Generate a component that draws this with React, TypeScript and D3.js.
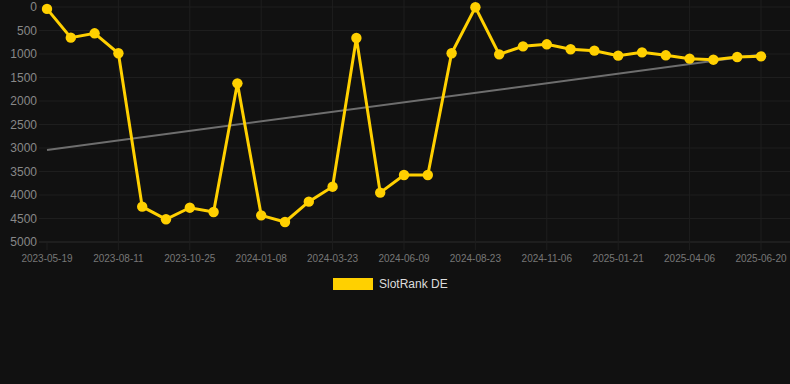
import React from "react";
import * as d3 from "d3";

const categories = [
  "2023-05-19", "2023-06-16", "2023-07-14", "2023-08-11", "2023-09-05", "2023-09-30",
  "2023-10-25", "2023-11-19", "2023-12-14", "2024-01-08", "2024-02-01", "2024-02-26",
  "2024-03-23", "2024-04-18", "2024-05-14", "2024-06-09", "2024-07-04", "2024-07-29",
  "2024-08-23", "2024-09-17", "2024-10-12", "2024-11-06", "2024-12-01", "2024-12-26",
  "2025-01-21", "2025-02-15", "2025-03-12", "2025-04-06", "2025-05-01", "2025-05-26",
  "2025-06-20",
];

const rankValues = [
  40, 652, 560, 985, 4248, 4517, 4270, 4362, 1624, 4433, 4574, 4142, 3823, 660, 3950,
  3574, 3574, 985, 6, 1007, 837, 794, 900, 929, 1035, 965, 1028, 1099, 1121, 1064, 1050,
];

const trendValues = [3043, 1013];

const yTicks = [0, 500, 1000, 1500, 2000, 2500, 3000, 3500, 4000, 4500, 5000];
const xTickLabels = [
  "2023-05-19", "2023-08-11", "2023-10-25", "2024-01-08", "2024-03-23", "2024-06-09",
  "2024-08-23", "2024-11-06", "2025-01-21", "2025-04-06", "2025-06-20",
];

const seriesName = "SlotRank DE";

export default function App() {
  const W = 790;
  const H = 384;
  const left = 47;
  const right = 761;
  const top = 7;
  const bottom = 242;
  const yellow = "#FFD000";
  const grid = "#1e1e1e";
  const font = "'Liberation Sans', Arial, sans-serif";

  const x = d3.scalePoint<string>().domain(categories).range([left, right]);
  const y = d3.scaleLinear().domain([0, 5000]).range([top, bottom]);

  const line = d3
    .line<number>()
    .x((_, i) => x(categories[i]) as number)
    .y((d) => y(d));

  const trendX0 = x(categories[0]) as number;
  const trendX1 = x(categories[categories.length - 1]) as number;

  React.useEffect(() => {
    document.body.style.margin = "0";
    document.body.style.background = "#111";
  }, []);

  return (
    <svg width={W} height={H} style={{ display: "block", background: "#111" }} fontFamily={font}>
      <rect x={0} y={0} width={W} height={H} fill="#111" />
      {yTicks.map((t) => (
        <g key={t}>
          <line
            x1={39}
            x2={790}
            y1={y(t)}
            y2={y(t)}
            stroke={t === 5000 ? "#2c2c2c" : grid}
            strokeWidth={1}
          />
          <text x={37} y={y(t)} dy="0.35em" textAnchor="end" fontSize={12} fill="#888">
            {t}
          </text>
        </g>
      ))}
      {xTickLabels.map((c, i) => (
        <g key={c}>
          <line
            x1={x(c)}
            x2={x(c)}
            y1={i === 0 ? bottom : 0}
            y2={bottom + 8}
            stroke={grid}
            strokeWidth={1}
          />
          <text x={x(c)} y={262} textAnchor="middle" fontSize={10} fill="#777">
            {c}
          </text>
        </g>
      ))}
      <line
        x1={trendX0}
        x2={trendX1}
        y1={y(trendValues[0])}
        y2={y(trendValues[1])}
        stroke="#6e6e6e"
        strokeWidth={2}
      />
      <path d={line(rankValues) || ""} fill="none" stroke={yellow} strokeWidth={3} strokeLinejoin="miter" />
      {rankValues.map((v, i) => (
        <circle key={i} cx={x(categories[i])} cy={y(v)} r={5.2} fill={yellow} />
      ))}
      <rect x={333} y={278} width={40} height={12} fill={yellow} />
      <text x={379} y={284} dy="0.35em" fontSize={12} fill="#ddd">
        {seriesName}
      </text>
    </svg>
  );
}
